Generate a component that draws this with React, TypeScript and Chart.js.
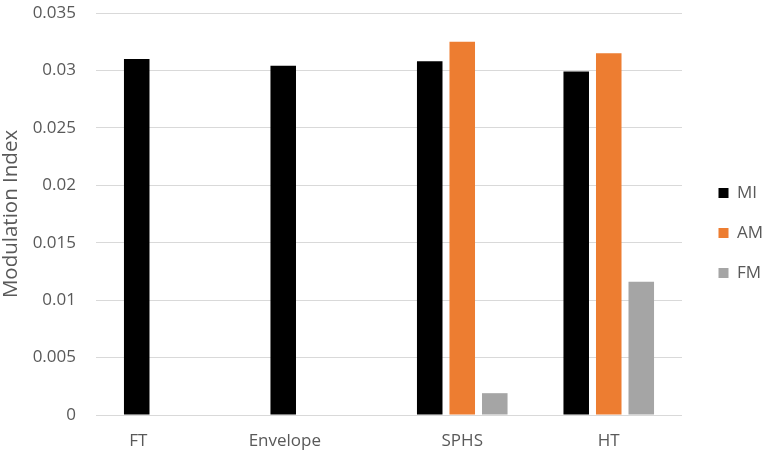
import React, { useEffect, useRef } from "react";
import { Chart, registerables } from "chart.js";

Chart.register(...registerables);

const categories = ["FT", "Envelope", "SPHS", "HT"];
const miValues = [0.031, 0.0304, 0.0308, 0.0299];
const amValues: (number | null)[] = [null, null, 0.0325, 0.0315];
const fmValues: (number | null)[] = [null, null, 0.0019, 0.0116];
const yTicks = [0, 0.005, 0.01, 0.015, 0.02, 0.025, 0.03, 0.035];

const FONT = "'Open Sans', 'Noto Sans', sans-serif";
const TEXT = "#595959";

export default function App() {
  const ref = useRef<HTMLCanvasElement | null>(null);

  useEffect(() => {
    if (!ref.current) return;
    const chart = new Chart(ref.current, {
      type: "bar",
      data: {
        labels: categories,
        datasets: [
          { label: "MI", data: miValues, backgroundColor: "#000000", borderWidth: 0 },
          { label: "AM", data: amValues, backgroundColor: "#ED7D31", borderWidth: 0 },
          { label: "FM", data: fmValues, backgroundColor: "#A5A5A5", borderWidth: 0 },
        ],
      },
      options: {
        responsive: false,
        animation: false,
        datasets: { bar: { categoryPercentage: 0.666, barPercentage: 0.785 } },
        layout: { padding: { top: 13, bottom: 0, left: 0, right: 0 } },
        plugins: {
          tooltip: { enabled: false },
          legend: {
            position: "right",
            maxWidth: 67.5,
            maxHeight: 426,
            labels: {
              boxWidth: 10,
              boxHeight: 10,
              padding: 23,
              color: TEXT,
              font: { family: FONT, size: 17 },
            },
          },
        },
        scales: {
          x: {
            grid: { display: false, drawTicks: false },
            border: { display: false },
            afterFit: (s: any) => {
              s.height = 38;
              s.paddingLeft = 0;
              s.paddingRight = 0;
            },
            ticks: {
              color: TEXT,
              padding: 16,
              maxRotation: 0,
              autoSkip: false,
              font: { family: FONT, size: 17 },
              callback: (_v: any, i: number) =>
                categories[i] + (amValues[i] == null && fmValues[i] == null ? " ".repeat(14) : ""),
            },
          },
          y: {
            min: yTicks[0],
            max: yTicks[yTicks.length - 1],
            afterBuildTicks: (s: any) => {
              s.ticks = yTicks.map((v) => ({ value: v }));
            },
            afterFit: (s: any) => {
              s.width = 96;
              s.paddingTop = 0;
              s.paddingBottom = 0;
            },
            grid: { color: "#d9d9d9", lineWidth: 1, drawTicks: false },
            border: { display: false },
            ticks: {
              color: TEXT,
              padding: 20,
              font: { family: FONT, size: 17 },
              callback: (v: any) => (v === 0 ? "0" : String(+Number(v).toFixed(3))),
            },
            title: {
              display: true,
              text: "Modulation Index",
              color: TEXT,
              padding: { top: 1, bottom: 0 },
              font: { family: FONT, size: 20.5, lineHeight: 1 },
            },
          },
          y2: {
            position: "right",
            display: true,
            grid: { display: false, drawTicks: false },
            border: { display: false },
            ticks: { display: false },
            afterFit: (s: any) => {
              s.width = 13.5;
              s.paddingTop = 0;
              s.paddingBottom = 0;
            },
          },
        },
      },
    });
    return () => chart.destroy();
  }, []);

  return (
    <div style={{ position: "absolute", left: 0, top: 0, width: 763, height: 453, background: "#fff" }}>
      <canvas ref={ref} width={763} height={453} style={{ display: "block" }} />
    </div>
  );
}
